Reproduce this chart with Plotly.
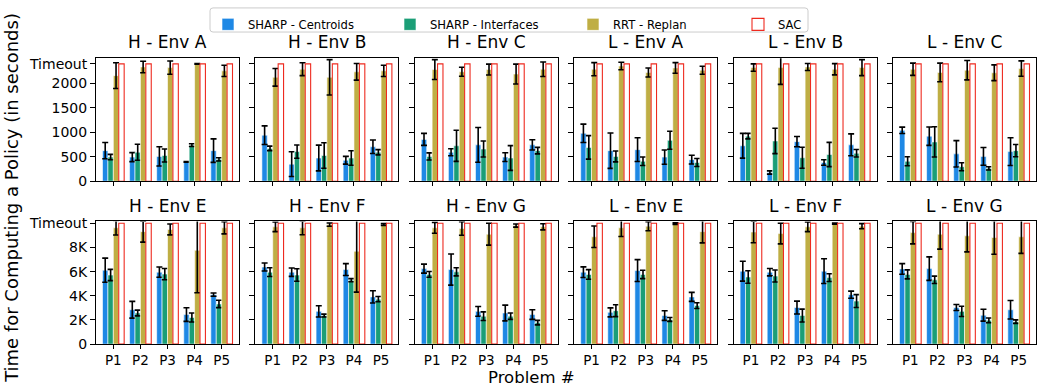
import plotly.graph_objects as go

# ---------------- data ----------------
problems = ["P1", "P2", "P3", "P4", "P5"]
panel_titles = ["H - Env A", "H - Env B", "H - Env C", "L - Env A", "L - Env B", "L - Env C",
                "H - Env E", "H - Env F", "H - Env G", "L - Env E", "L - Env F", "L - Env G"]
series_names = ["SHARP - Centroids", "SHARP - Interfaces", "RRT - Replan", "SAC"]

timeout_top = 2400
timeout_bottom = 10000

centroid_mean = [
    [625, 493, 507, 395, 625], [941, 349, 474, 428, 704], [855, 592, 744, 493, 744],
    [980, 625, 645, 493, 441], [724, 178, 809, 382, 744], [1040, 921, 559, 507, 605],
    [6118, 2846, 5958, 2447, 4096], [6384, 5958, 2713, 6171, 3910], [6251, 6171, 2713, 2580, 2447],
    [5958, 2633, 6091, 2367, 3910], [6038, 5958, 3032, 6038, 4096], [6224, 6251, 3032, 2394, 2846],
]
centroid_err = [
    [165, 92, 197, 5, 240], [190, 253, 263, 79, 138], [122, 72, 355, 89, 105],
    [188, 362, 243, 145, 89], [253, 33, 105, 56, 224], [66, 188, 270, 181, 283],
    [998, 692, 426, 559, 133], [332, 346, 466, 492, 505], [372, 1290, 399, 652, 399],
    [439, 372, 904, 399, 372], [825, 306, 532, 1024, 293], [439, 971, 253, 492, 771],
]
interface_mean = [
    [493, 592, 526, 737, 447], [671, 605, 526, 474, 592], [507, 724, 658, 474, 625],
    [691, 507, 408, 836, 382], [921, 823, 480, 546, 572], [408, 803, 296, 263, 625],
    [5719, 2580, 5799, 2208, 3325], [5958, 5719, 2367, 5293, 3724], [5772, 5985, 2314, 2314, 1782],
    [5772, 2766, 5772, 2048, 3192], [5559, 5639, 2367, 5506, 3564], [5772, 5320, 2713, 1968, 1862],
]
interface_err = [
    [55, 165, 132, 28, 33], [46, 135, 260, 148, 53], [72, 319, 164, 253, 66],
    [240, 112, 86, 184, 82], [56, 260, 214, 247, 76], [92, 309, 82, 33, 125],
    [466, 239, 466, 372, 306], [359, 519, 120, 133, 213], [239, 332, 359, 266, 186],
    [399, 492, 346, 160, 239], [519, 492, 532, 319, 532], [372, 306, 426, 200, 146],
]
rrt_mean = [
    [2158, 2336, 2323, 2400, 2257], [2125, 2290, 2125, 2237, 2257], [2283, 2237, 2283, 2191, 2290],
    [2290, 2356, 2224, 2316, 2270], [2323, 2323, 2336, 2290, 2323], [2290, 2224, 2270, 2218, 2303],
    [9629, 9310, 9496, 7767, 9629], [9709, 9629, 9895, 7687, 9895], [9629, 9576, 9097, 9815, 9709],
    [8884, 9629, 9762, 9975, 9310], [9283, 9150, 9709, 9975, 9762], [9230, 9097, 8964, 8831, 8884],
]
rrt_err = [
    [263, 118, 135, 8, 115], [181, 132, 362, 171, 115], [204, 92, 112, 204, 148],
    [135, 76, 92, 109, 82], [76, 342, 72, 115, 164], [125, 191, 197, 161, 158],
    [600, 865, 452, 3511, 505], [399, 572, 133, 3378, 80], [452, 559, 904, 133, 253],
    [891, 718, 372, 66, 931], [891, 851, 399, 40, 213], [931, 1237, 1330, 1396, 1370],
]

top_tickvals = [0, 500, 1000, 1500, 2000, 2400]
top_ticktext = ["0", "500", "1000", "1500", "2000", "Timeout"]
bottom_tickvals = [0, 2000, 4000, 6000, 8000, 10000]
bottom_ticktext = ["0", "2K", "4K", "6K", "8K", "Timeout"]

# ---------------- style ----------------
colors = ["#1E88E5", "#1B9E77", "#BFAE44"]
sac_color = "#EE2A1F"
FONT = "DejaVu Sans"
W, H = 1039, 391

frame_left0 = 96
frame_w = 143
period = 159.4
rows_px = [(54.3, 181.7), (223.5, 350.7)]
yranges = [[0, 2512], [0, 10150]]
legend_ids = ["legend", "legend2", "legend3", "legend4"]
legend_patch_centers = [228, 410, 593, 758]

fig = go.Figure()
layout = {}
annotations = []

for i in range(12):
    r, c = divmod(i, 6)
    n = i + 1
    xa = "x" if n == 1 else f"x{n}"
    ya = "y" if n == 1 else f"y{n}"
    x = list(range(len(problems)))
    timeout = timeout_top if r == 0 else timeout_bottom
    means = [centroid_mean[i], interface_mean[i], rrt_mean[i]]
    errs = [centroid_err[i], interface_err[i], rrt_err[i]]
    for s in range(3):
        fig.add_trace(go.Bar(
            x=x, y=means[s], name=series_names[s], legendgroup=series_names[s],
            legend=legend_ids[s],
            showlegend=(i == 0), xaxis=xa, yaxis=ya,
            marker=dict(color=colors[s], line=dict(color="white", width=0.6)),
            error_y=dict(type="data", array=errs[s], visible=True,
                         color="black", thickness=1.6, width=3),
        ))
    fig.add_trace(go.Bar(
        x=x, y=[timeout] * len(problems), name=series_names[3], legendgroup=series_names[3],
        legend=legend_ids[3],
        showlegend=(i == 0), xaxis=xa, yaxis=ya,
        marker=dict(color="white", line=dict(color=sac_color, width=1.1)),
    ))

    x0 = (frame_left0 + c * period) / W
    x1 = (frame_left0 + frame_w + c * period) / W
    top_px, bot_px = rows_px[r]
    y0 = 1 - bot_px / H
    y1 = 1 - top_px / H

    axis_common = dict(showline=True, linecolor="black", linewidth=1, mirror=True,
                       ticks="outside", tickwidth=1, tickcolor="black",
                       showgrid=False, zeroline=False)
    layout["xaxis" if n == 1 else f"xaxis{n}"] = dict(
        domain=[x0, x1], anchor=ya, range=[-0.64, 4.64],
        tickmode="array", tickvals=x, ticktext=problems, ticklen=4,
        tickfont=dict(family=FONT, size=13.5, color="black"),
        showticklabels=(r == 1), **axis_common)
    layout["yaxis" if n == 1 else f"yaxis{n}"] = dict(
        domain=[y0, y1], anchor=xa, range=yranges[r],
        tickmode="array", ticklen=5,
        tickvals=top_tickvals if r == 0 else bottom_tickvals,
        ticktext=top_ticktext if r == 0 else bottom_ticktext,
        tickfont=dict(family=FONT, size=14, color="black"),
        showticklabels=(c == 0), **axis_common)

    annotations.append(dict(
        text=panel_titles[i], xref="paper", yref="paper",
        x=(x0 + x1) / 2, y=y1 + 4 / H, xanchor="center", yanchor="bottom",
        showarrow=False, font=dict(family=FONT, size=17, color="black")))

annotations.append(dict(
    text="Time for Computing a Policy (in seconds)", xref="paper", yref="paper",
    x=12 / W, y=1 - 199 / H, xanchor="center", yanchor="middle", textangle=-90,
    showarrow=False, font=dict(family=FONT, size=18, color="black")))
annotations.append(dict(
    text="Problem #", xref="paper", yref="paper",
    x=531 / W, y=1 - 385 / H, xanchor="center", yanchor="middle",
    showarrow=False, font=dict(family=FONT, size=16.5, color="black")))

# legend frame (rounded box)
def px_x(v):
    return v / W
def px_y(v):
    return 1 - v / H
lx0, lx1, ly0, ly1, rr = 210, 808, 2, 27, 3
path = (f"M {px_x(lx0 + rr)},{px_y(ly0)} L {px_x(lx1 - rr)},{px_y(ly0)} "
        f"Q {px_x(lx1)},{px_y(ly0)} {px_x(lx1)},{px_y(ly0 + rr)} "
        f"L {px_x(lx1)},{px_y(ly1 - rr)} Q {px_x(lx1)},{px_y(ly1)} {px_x(lx1 - rr)},{px_y(ly1)} "
        f"L {px_x(lx0 + rr)},{px_y(ly1)} Q {px_x(lx0)},{px_y(ly1)} {px_x(lx0)},{px_y(ly1 - rr)} "
        f"L {px_x(lx0)},{px_y(ly0 + rr)} Q {px_x(lx0)},{px_y(ly0)} {px_x(lx0 + rr)},{px_y(ly0)} Z")
shapes = [dict(type="path", path=path, xref="paper", yref="paper",
               line=dict(color="#CCCCCC", width=1), fillcolor="white", layer="above")]

for k, lid in enumerate(legend_ids):
    layout[lid] = dict(
        orientation="h", x=(legend_patch_centers[k] - 20) / W, xanchor="left",
        y=1 - 4 / H, yanchor="top", borderwidth=0, bgcolor="rgba(0,0,0,0)",
        font=dict(family=FONT, size=11.6, color="black"))

fig.update_layout(
    width=W, height=H,
    margin=dict(l=0, r=0, t=0, b=0),
    paper_bgcolor="white", plot_bgcolor="white",
    barmode="group", bargap=0.2, bargroupgap=0,
    font=dict(family=FONT, color="black"),
    annotations=annotations,
    shapes=shapes,
    **layout,
)

fig.write_html("out.html", config={"displayModeBar": False},
               post_script="document.body.style.margin='0px';")
